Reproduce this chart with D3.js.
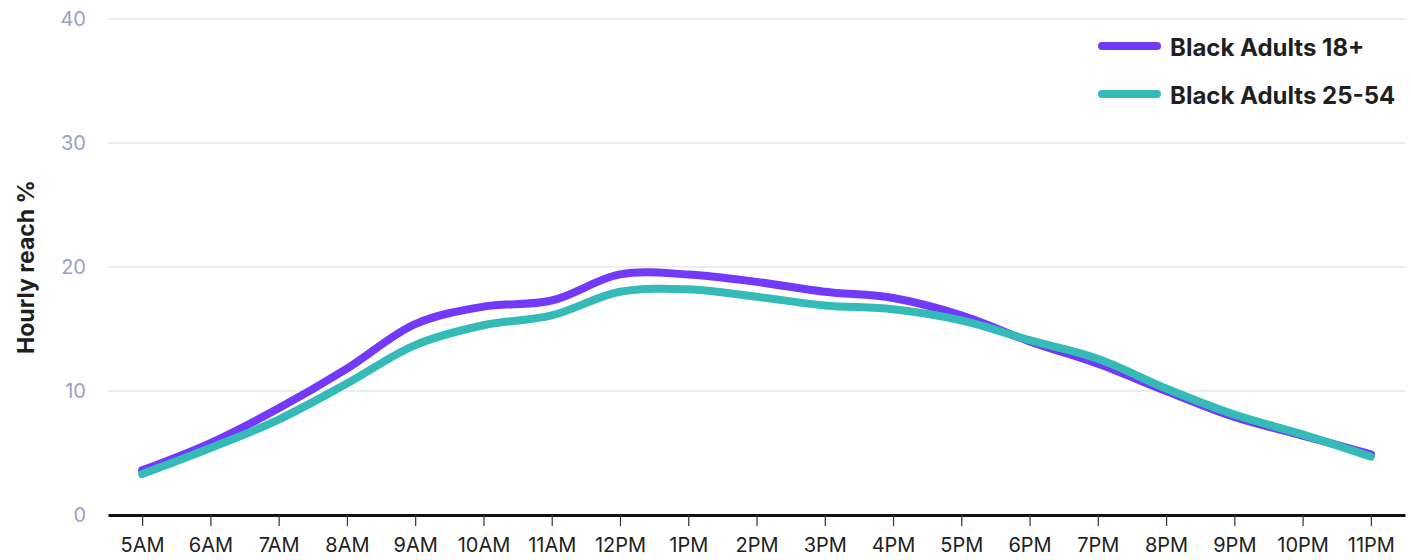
<!DOCTYPE html>
<html>
<head>
<meta charset="utf-8">
<script src="https://cdn.jsdelivr.net/npm/d3@7"></script>
<style>
  html, body { margin: 0; padding: 0; background: #fff; }
  svg { display: block; font-family: Inter, "Noto Sans", sans-serif; }
</style>
</head>
<body>
<svg id="chart" width="1411" height="560"></svg>
<script>
// Hourly reach by time of day
const hours = ["5AM","6AM","7AM","8AM","9AM","10AM","11AM","12PM","1PM","2PM","3PM","4PM","5PM","6PM","7PM","8PM","9PM","10PM","11PM"];
const adults18 = [3.6, 5.8, 8.6, 11.8, 15.4, 16.8, 17.3, 19.4, 19.4, 18.8, 18.0, 17.5, 16.1, 14.0, 12.2, 10.0, 7.9, 6.4, 4.9];
const adults2554 = [3.3, 5.4, 7.7, 10.6, 13.7, 15.3, 16.1, 18.0, 18.2, 17.6, 16.9, 16.6, 15.7, 14.1, 12.6, 10.2, 8.1, 6.5, 4.7];
const yTicks = [0, 10, 20, 30, 40];
const seriesNames = ["Black Adults 18+", "Black Adults 25-54"];
const seriesColors = ["#7339f8", "#35bbb7"];

const svg = d3.select("#chart");
const plotLeft = 108, plotRight = 1405, plotTop = 19, plotBottom = 515;

const x = d3.scalePoint().domain(hours).range([plotLeft, plotRight]).padding(0.5);
const y = d3.scaleLinear().domain([0, 40]).range([plotBottom, plotTop]);

// horizontal gridlines with value labels
const grid = svg.append("g");
grid.selectAll("line").data(yTicks.filter(d => d > 0)).join("line")
  .attr("x1", plotLeft).attr("x2", plotRight)
  .attr("y1", d => y(d)).attr("y2", d => y(d))
  .attr("stroke", "#e4e7eb").attr("stroke-width", 1.5);
grid.selectAll("text").data(yTicks).join("text")
  .attr("x", 86).attr("y", d => y(d))
  .attr("dy", "0.35em")
  .attr("text-anchor", "end")
  .attr("font-size", 20)
  .attr("fill", "#9aa1bf")
  .text(d => d);

// y axis title
svg.append("text")
  .attr("transform", `translate(34,${(plotTop + plotBottom) / 2}) rotate(-90)`)
  .attr("text-anchor", "middle")
  .attr("font-size", 23)
  .attr("font-weight", 700)
  .attr("fill", "#1f1f1f")
  .text("Hourly reach %");

// x axis
const xAxis = svg.append("g")
  .attr("transform", `translate(0,${plotBottom})`)
  .call(d3.axisBottom(x).tickSize(11).tickPadding(12).tickSizeOuter(0));
xAxis.select(".domain").attr("stroke", "#111").attr("stroke-width", 3);
xAxis.selectAll(".tick line").attr("stroke", "#333").attr("stroke-width", 1.2);
xAxis.selectAll(".tick text")
  .attr("font-size", 20)
  .attr("font-family", "Inter, 'Noto Sans', sans-serif")
  .attr("fill", "#222");

// series lines
const line = d3.line()
  .x((d, i) => x(hours[i]))
  .y(d => y(d))
  .curve(d3.curveCatmullRom.alpha(0.5));

[adults18, adults2554].forEach((vals, i) => {
  svg.append("path")
    .datum(vals)
    .attr("d", line)
    .attr("fill", "none")
    .attr("stroke", seriesColors[i])
    .attr("stroke-width", 8)
    .attr("stroke-linecap", "round")
    .attr("stroke-linejoin", "round");
});

// legend
const legend = svg.append("g");
seriesNames.forEach((name, i) => {
  const ly = 46 + i * 48;
  legend.append("line")
    .attr("x1", 1102).attr("x2", 1157)
    .attr("y1", ly).attr("y2", ly)
    .attr("stroke", seriesColors[i])
    .attr("stroke-width", 8)
    .attr("stroke-linecap", "round");
  legend.append("text")
    .attr("x", 1170).attr("y", ly + 1.5)
    .attr("dy", "0.35em")
    .attr("font-size", 24)
    .attr("font-weight", 700)
    .attr("fill", "#1f1f1f")
    .text(name);
});
</script>
</body>
</html>
